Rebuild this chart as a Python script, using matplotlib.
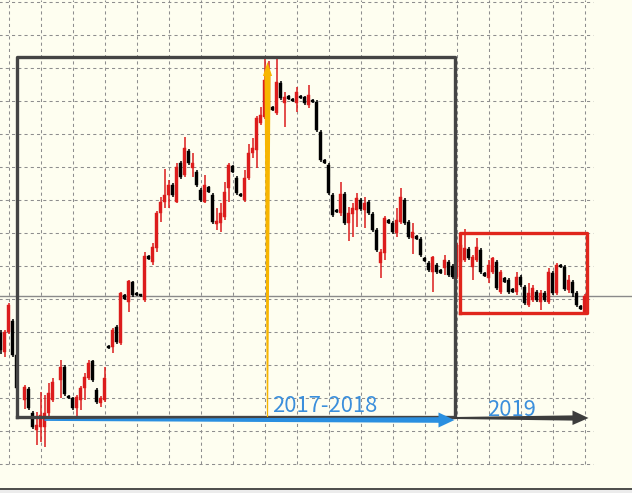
import numpy as np
import matplotlib
matplotlib.use("Agg")
import matplotlib.pyplot as plt
from matplotlib.patches import Polygon

# ---- candle data (weekly), price level units; NaN = no candle ----
nan = np.nan
opens = [167,148,168,179,145,nan,100,111,87,70,73,73,87,100,nan,120,133,104,102,92,
         100,112,122,139,110,97,100,154,153,173,157,205,198,218,207,205,200,244,238,252,
         287,298,305,315,298,337,325,349,332,328,310,298,313,305,276,277,283,312,334,322,
         306,300,322,347,350,377,383,390,393,387,417,397,404,401,397,404,403,395,400,398,
         368,340,335,305,290,287,306,277,286,290,300,290,298,286,270,237,247,280,277,267,
         278,300,278,262,264,261,242,237,228,235,230,232,238,234,223,238,240,251,233,240,
         250,227,222,228,238,208,222,220,211,208,223,213,195,200,208,198,207,198,227,207,
         235,233,210,218,207,194,188]
closes = [150,168,195,145,112,nan,113,92,73,75,85,87,107,118,nan,133,106,102,92,103,
          112,123,137,120,98,102,122,152,170,158,207,201,219,205,205,204,244,241,253,287,
          298,305,315,305,333,323,352,337,337,315,300,315,308,278,279,287,308,335,328,307,
          304,322,347,352,382,385,420,428,390,418,402,403,401,399,408,402,397,405,398,370,
          340,337,307,285,288,306,277,287,292,302,291,297,287,270,250,248,282,277,268,280,
          303,277,263,268,261,245,239,230,243,228,227,240,225,223,255,255,252,242,243,253,
          228,224,235,242,212,228,218,208,208,223,215,197,207,212,200,207,200,228,207,235,
          233,211,220,207,195,191,204]
highs = [170,170,197,181,147,nan,115,113,89,88,108,105,117,122,nan,140,135,105,103,105,
         114,127,140,140,112,104,133,155,172,175,208,206,220,219,208,206,248,245,257,289,
         303,331,320,317,337,339,363,351,347,330,312,325,314,307,292,297,318,337,335,324,
         307,330,356,362,384,393,442,439,394,443,419,408,405,402,413,405,404,415,401,400,
         370,341,337,307,291,318,308,293,297,307,302,303,300,288,272,251,284,281,279,292,
         312,302,280,277,265,263,243,239,244,237,231,245,240,236,257,257,271,253,245,262,
         252,228,240,243,240,230,223,222,212,228,225,215,217,215,210,210,209,232,229,237,
         236,235,225,220,209,195,206]
lows = [146,143,166,143,110,nan,91,90,71,55,58,53,82,98,nan,102,104,101,90,83,
        90,100,120,118,96,93,98,151,147,156,155,200,188,203,204,203,198,240,235,248,
        278,292,292,303,297,321,323,335,323,313,298,297,307,276,270,268,280,298,327,305,
        303,298,320,342,332,375,381,388,389,385,400,373,400,398,388,401,395,392,397,368,
        338,336,305,283,287,284,275,259,263,273,289,272,285,268,248,222,240,276,266,263,
        276,275,261,246,260,243,238,228,208,226,226,225,223,221,221,236,238,240,220,238,
        226,223,217,226,210,206,217,206,207,205,213,195,193,198,198,190,198,196,205,205,
        232,209,207,203,193,190,187]

opens, closes, highs, lows = map(lambda a: np.array(a, dtype=float), (opens, closes, highs, lows))
idx = np.arange(len(opens))

# ---- annotation positions (candle index, price level) ----
frame_x = (4.1, 113.5)
frame_y = (83, 443)
box_x = (114.8, 146.7)
box_y = (187, 267)
price_line = 204
label_1 = "2017-2018"
label_2 = "2019"

BG = "#fefef0"
RED = "#dc1c1c"
GRID = "#8e8e8e"
BLUE = "#2a8fe0"
TXT_BLUE = "#3b8fdc"
DARK = "#444444"
ORANGE = "#f7b500"

fig = plt.figure(figsize=(6.32, 4.93), dpi=100)
fig.patch.set_facecolor(BG)
ax = fig.add_axes([0, 0, 1, 1])
ax.set_facecolor(BG)
ax.set_xlim(-0.125, 157.875)
ax.set_ylim(7, 500)
ax.axis("off")

# grid (dashed), limited extent
for gx in np.arange(2, 148, 8):
    ax.plot([gx, gx], [36, 500], color=GRID, lw=0.75, ls=(0, (3, 3)), zorder=1)
for gy in np.arange(498, 30, -33):
    ax.plot([-1, 148], [gy, gy], color=GRID, lw=0.75, ls=(0, (3, 3)), zorder=1)

# current-price line
ax.axhline(price_line, color="#8a8a8a", lw=1.0, zorder=1.5)

# candles
valid = ~np.isnan(opens)
up = (closes >= opens) & valid
dn = (closes < opens) & valid
for mask, col in ((up, RED), (dn, "#000000")):
    ax.vlines(idx[mask], lows[mask], highs[mask], color=col, lw=1.1, zorder=3)
    bottoms = np.minimum(opens[mask], closes[mask])
    heights = np.maximum(np.abs(closes[mask] - opens[mask]), 2.5)
    ax.bar(idx[mask], heights, bottom=bottoms, width=0.85, color=col,
           edgecolor=col, lw=0.3, zorder=4)

# black frame
ax.plot([frame_x[0], frame_x[0], frame_x[1], frame_x[1], frame_x[0]],
        [frame_y[0], frame_y[1], frame_y[1], frame_y[0], frame_y[0]],
        color=DARK, lw=2.4, solid_joinstyle="round", zorder=6)

# red box
ax.plot([box_x[0], box_x[0], box_x[1], box_x[1], box_x[0]],
        [box_y[0], box_y[1], box_y[1], box_y[0], box_y[0]],
        color="#e0261c", lw=2.4, solid_joinstyle="round", zorder=6)

# orange vertical tapered arrow
xc = 66.75
orange = Polygon([(xc - 0.15, 83), (xc - 0.75, 424), (xc - 1.15, 424), (xc, 438),
                  (xc + 1.15, 424), (xc + 0.75, 424), (xc + 0.15, 83)],
                 closed=True, facecolor=ORANGE, edgecolor="none", zorder=7)
ax.add_patch(orange)

# blue horizontal tapered arrow
blue = Polygon([(11.0, 80.9), (109.5, 82.8), (109.5, 87.5), (113.5, 80),
                (109.5, 72.5), (109.5, 77.2), (11.0, 79.1)],
               closed=True, facecolor=BLUE, edgecolor="none", zorder=7)
ax.add_patch(blue)

# dark grey arrow
grey = Polygon([(113.5, 83.0), (143.0, 84.6), (143.0, 89.5), (147.0, 82),
                (143.0, 75.0), (143.0, 79.4), (113.5, 81.0)],
               closed=True, facecolor="#3c3c3c", edgecolor="none", zorder=7)
ax.add_patch(grey)

# labels
ax.text(68, 88, label_1, color=TXT_BLUE, fontsize=15.8, va="baseline", ha="left",
        family=["Noto Sans CJK SC", "DejaVu Sans"], zorder=8)
ax.text(121.6, 84, label_2, color=TXT_BLUE, fontsize=15.8, va="baseline", ha="left",
        family=["Noto Sans CJK SC", "DejaVu Sans"], zorder=8)

# bottom strip
ax.axhspan(7, 10.5, color="#ececec", zorder=2)
ax.axhline(10.8, color="#2e2e2e", lw=1.2, zorder=2)

fig.savefig("out.png", dpi=100, facecolor=BG)
